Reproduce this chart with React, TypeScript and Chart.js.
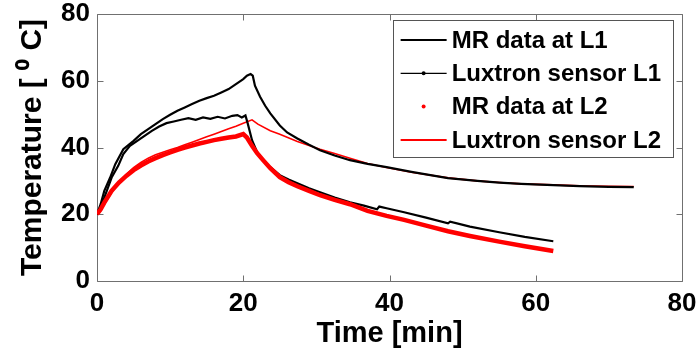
import { useEffect, useRef } from "react";
import { Chart, registerables } from "chart.js";

Chart.register(...registerables);

const FONT = '"Liberation Sans", Arial, Helvetica, sans-serif';

// MR data at L1 (black, thick line)
const mrL1Time = [0, 0.5, 1, 1.8, 2.5, 3.6, 5, 6, 7, 8, 9, 10, 11, 12, 13, 14, 15, 16, 17, 18, 19, 20, 20.5, 21, 21.3, 21.6, 22.3, 23, 23.7, 25, 26, 27.4, 29, 30.5, 32.5, 34.6, 37, 39.6, 43, 48, 52, 55, 58, 62.4, 66, 70, 73.4];
const mrL1Temp = [20, 23, 27, 31, 35, 39.5, 42, 44, 45.5, 47, 48.5, 49.8, 51, 52, 53, 54, 54.8, 55.5, 56.5, 57.5, 59, 60.5, 61.5, 62, 61.5, 58.5, 55.2, 52.5, 50.2, 46.6, 44.5, 42.7, 40.8, 39.2, 37.6, 36.2, 35.1, 34.1, 32.7, 30.8, 30, 29.5, 29.1, 28.7, 28.4, 28.2, 28.1];

// Luxtron sensor L1 (black, thin line with markers)
const luxL1Time = [0, 0.5, 1, 1.5, 2, 2.9, 3.6, 4.5, 5.5, 6.5, 7.5, 8.5, 9.5, 10.5, 11.5, 12.5, 13.5, 14.5, 15.5, 16.5, 17.5, 18.5, 19.2, 19.8, 20.3, 20.6, 21.2, 21.9, 22.8, 23.7, 25, 26.2, 27.4, 29, 30.5, 32.5, 34.6, 36.5, 38.3, 38.6, 39.6, 42, 45, 48, 48.3, 51, 55, 58.5, 62.4];
const luxL1Temp = [20, 22, 25, 28, 31, 34.5, 38, 40.5, 42, 43.5, 45, 46.3, 47.3, 47.8, 48.3, 48.8, 48.3, 49, 48.6, 49.2, 48.7, 49.5, 49.7, 49, 49.6, 47.3, 42.2, 38.6, 36, 34.1, 31.7, 30.4, 29.3, 27.8, 26.6, 25, 23.6, 22.6, 21.5, 22.3, 21.8, 20.6, 19, 17.3, 17.8, 16.3, 14.6, 13.2, 11.9];

// MR data at L2 (red dots, dense band)
const mrL2Time = [0, 0.5, 1, 2, 3, 4, 5, 6, 7, 8, 9, 10, 11, 12, 13, 14, 15, 16, 17, 18, 19, 20, 20.5, 21.2, 21.9, 22.8, 23.7, 25, 26.2, 27.4, 29, 30.5, 32.5, 34.6, 37, 39.6, 42, 45, 48, 51, 55, 58.5, 62.4];
const mrL2Temp = [20, 21.5, 23.5, 27, 29.5, 31.5, 33.2, 34.6, 35.8, 36.8, 37.7, 38.5, 39.3, 40, 40.6, 41.2, 41.7, 42.2, 42.6, 43, 43.3, 44, 43, 40.5, 38.3, 36, 33.8, 31.1, 29.6, 28.4, 27, 25.7, 24.3, 23, 21, 19.5, 18.3, 16.6, 14.9, 13.5, 11.8, 10.4, 9];

// Luxtron sensor L2 (red, thin line)
const luxL2Time = [0, 0.5, 1, 2, 3, 4, 5, 6, 7, 8, 9, 10, 11, 12, 13, 14, 15, 16, 17, 18, 19, 20, 21.2, 22, 23.7, 25, 27.4, 30.5, 32.5, 34.6, 37, 39.6, 43, 48, 52, 55, 58, 62.4, 66, 70, 73.4];
const luxL2Temp = [20, 21, 23, 26.5, 29.5, 32, 34, 35.5, 36.8, 37.8, 38.6, 39.3, 40, 40.8, 41.6, 42.4, 43.2, 44, 44.8, 45.6, 46.4, 47.3, 48.3, 47, 45, 44, 41.8, 39.5, 38.2, 36.8, 35.2, 34, 32.6, 30.9, 30, 29.5, 29.1, 28.8, 28.5, 28.4, 28.3];

const xTickValues = [0, 20, 40, 60, 80];
const yTickValues = [0, 20, 40, 60, 80];

const seriesLabels = ["MR data at L1", "Luxtron sensor L1", "MR data at L2", "Luxtron sensor L2"];

const toPoints = (t: number[], v: number[]) => t.map((x, i) => ({ x, y: v[i] }));

const framePlugin = {
  id: "frame",
  beforeDatasetsDraw(chart: any) {
    const { ctx, chartArea: a, scales } = chart;
    ctx.save();
    ctx.strokeStyle = "#707070";
    ctx.lineWidth = 1;
    const l = Math.round(a.left) + 0.5;
    const r = Math.round(a.right) + 0.5;
    const t = Math.round(a.top) + 0.5;
    const b = Math.round(a.bottom) + 0.5;
    ctx.beginPath();
    ctx.rect(l, t, r - l, b - t);
    const len = 6;
    xTickValues.forEach((v) => {
      const px = Math.round(scales.x.getPixelForValue(v)) + 0.5;
      ctx.moveTo(px, b);
      ctx.lineTo(px, b - len);
      ctx.moveTo(px, t);
      ctx.lineTo(px, t + len);
    });
    yTickValues.forEach((v) => {
      const py = Math.round(scales.y.getPixelForValue(v)) + 0.5;
      ctx.moveTo(l, py);
      ctx.lineTo(l + len, py);
      ctx.moveTo(r, py);
      ctx.lineTo(r - len, py);
    });
    ctx.stroke();
    ctx.restore();
  },
};

const legendPlugin = {
  id: "boxLegend",
  afterDatasetsDraw(chart: any) {
    const { ctx, chartArea: a } = chart;
    const ds = chart.data.datasets;
    ctx.save();
    ctx.font = `bold 24px ${FONT}`;
    const maxW = Math.max(...ds.map((d: any) => ctx.measureText(d.label).width));
    const right = a.right - 9;
    const top = a.top + 6;
    const left = right - (59 + maxW + 12);
    const rowH = 33.3;
    const height = 137;
    ctx.fillStyle = "#ffffff";
    ctx.fillRect(left, top, right - left, height);
    ctx.strokeStyle = "#555555";
    ctx.lineWidth = 1;
    ctx.strokeRect(Math.round(left) + 0.5, top + 0.5, Math.round(right - left), height);
    ds.forEach((d: any, i: number) => {
      const cy = top + 20 + i * rowH;
      const x0 = left + 8;
      const x1 = left + 54;
      const xc = (x0 + x1) / 2;
      if (d.legendKind === "line" || d.legendKind === "linemarker") {
        ctx.strokeStyle = d.borderColor;
        ctx.lineWidth = d.legendWidth;
        ctx.beginPath();
        ctx.moveTo(x0, cy);
        ctx.lineTo(x1, cy);
        ctx.stroke();
      }
      if (d.legendKind === "linemarker" || d.legendKind === "dot") {
        ctx.fillStyle = d.borderColor;
        ctx.beginPath();
        ctx.arc(xc, cy, 2, 0, Math.PI * 2);
        ctx.fill();
      }
      ctx.fillStyle = "#000000";
      ctx.textAlign = "left";
      ctx.textBaseline = "middle";
      ctx.fillText(d.label, left + 59, cy + 1);
    });
    ctx.restore();
  },
};

export default function App() {
  const canvasRef = useRef<HTMLCanvasElement | null>(null);

  useEffect(() => {
    if (!canvasRef.current) return;
    const tickFont = { family: FONT, size: 26, weight: "bold" as const, lineHeight: 1 };
    const titleFont = { family: FONT, size: 29, weight: "bold" as const, lineHeight: 1 };
    const chart = new Chart(canvasRef.current, {
      type: "scatter",
      data: {
        datasets: [
          {
            label: seriesLabels[0],
            data: toPoints(mrL1Time, mrL1Temp),
            showLine: true,
            borderColor: "#000000",
            backgroundColor: "#000000",
            borderWidth: 2.2,
            pointRadius: 0,
            legendKind: "line",
            legendWidth: 2.2,
            order: 1,
          } as any,
          {
            label: seriesLabels[1],
            data: toPoints(luxL1Time, luxL1Temp),
            showLine: true,
            borderColor: "#000000",
            backgroundColor: "#000000",
            borderWidth: 2.2,
            pointRadius: 0,
            pointHoverRadius: 0,
            legendKind: "linemarker",
            legendWidth: 1.2,
            order: 2,
          } as any,
          {
            label: seriesLabels[2],
            data: toPoints(mrL2Time, mrL2Temp),
            showLine: true,
            borderColor: "#ff0000",
            backgroundColor: "#ff0000",
            borderWidth: 4.5,
            pointRadius: 0,
            legendKind: "dot",
            legendWidth: 0,
            order: 0,
          } as any,
          {
            label: seriesLabels[3],
            data: toPoints(luxL2Time, luxL2Temp),
            showLine: true,
            borderColor: "#ff0000",
            backgroundColor: "#ff0000",
            borderWidth: 1.6,
            pointRadius: 0,
            legendKind: "line",
            legendWidth: 2,
            order: 3,
          } as any,
        ],
      },
      options: {
        animation: false,
        responsive: false,
        events: [],
        layout: { padding: { left: 0, top: 14, right: 17, bottom: 0 } },
        plugins: { legend: { display: false }, tooltip: { enabled: false } },
        elements: { line: { tension: 0 } },
        scales: {
          x: {
            type: "linear",
            min: 0,
            max: 80,
            afterBuildTicks: (scale: any) => {
              scale.ticks = xTickValues.map((v) => ({ value: v }));
            },
            afterFit: (scale: any) => {
              scale.height = 75;
              scale.paddingLeft = 0;
              scale.paddingRight = 0;
            },
            grid: { display: false, drawTicks: false },
            border: { display: false },
            ticks: { font: tickFont, color: "#000000", padding: 10, maxRotation: 0 },
            title: {
              display: true,
              text: "Time [min]",
              font: titleFont,
              color: "#000000",
              padding: { top: 0, bottom: 8 },
            },
          },
          y: {
            type: "linear",
            min: 0,
            max: 80,
            afterBuildTicks: (scale: any) => {
              scale.ticks = yTickValues.map((v) => ({ value: v }));
            },
            afterFit: (scale: any) => {
              scale.width = 97;
              scale.paddingTop = 0;
              scale.paddingBottom = 0;
            },
            grid: { display: false, drawTicks: false },
            border: { display: false },
            ticks: { font: tickFont, color: "#000000", padding: 7 },
            title: {
              display: true,
              text: "Temperature [ \u2070 C]",
              font: { ...titleFont, size: 30 },
              color: "#000000",
              padding: { top: 18, bottom: 0 },
            },
          },
        },
      },
      plugins: [framePlugin, legendPlugin],
    });
    return () => chart.destroy();
  }, []);

  return (
    <div style={{ position: "absolute", left: 0, top: 0, width: 699, height: 356, background: "#ffffff" }}>
      <canvas ref={canvasRef} width={699} height={356} style={{ display: "block", width: 699, height: 356 }} />
    </div>
  );
}
